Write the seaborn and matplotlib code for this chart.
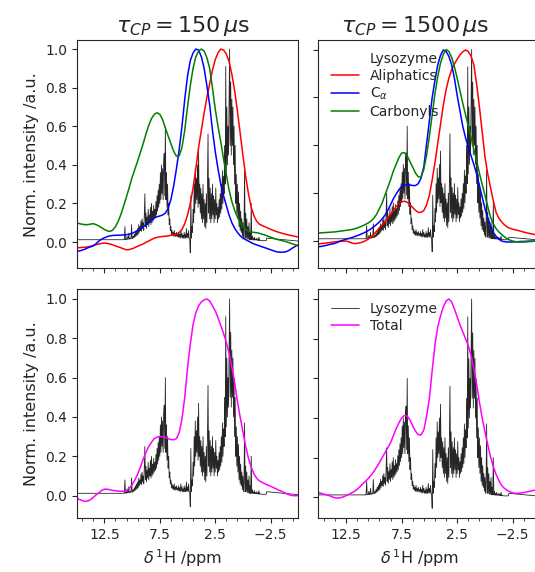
import numpy as np
import matplotlib
matplotlib.use('Agg')
import matplotlib.pyplot as plt
from matplotlib.lines import Line2D
import seaborn as sns

sns.set_style('ticks')
plt.rcParams['font.family'] = ['DejaVu Sans']
plt.rcParams['mathtext.fontset'] = 'dejavusans'

# fitted curves, read every 0.25 ppm from 15 down to -5
grid_ppm = np.linspace(15.0, -5.0, 81)

aliph_150 = [-0.03, -0.029, -0.028, -0.027, -0.025, -0.022, -0.018, -0.014, -0.01, -0.007,
             -0.005, -0.007, -0.01, -0.015, -0.02, -0.025, -0.03, -0.036, -0.04, -0.039,
             -0.035, -0.029, -0.022, -0.016, -0.01, -0.002, 0.005, 0.013, 0.02, 0.024,
             0.027, 0.029, 0.03, 0.032, 0.035, 0.037, 0.04, 0.05, 0.065, 0.095,
             0.14, 0.2, 0.28, 0.38, 0.49, 0.58, 0.67, 0.75, 0.82, 0.89,
             0.945, 0.98, 1.0, 0.995, 0.975, 0.935, 0.87, 0.785, 0.68, 0.565,
             0.45, 0.34, 0.25, 0.18, 0.135, 0.107, 0.092, 0.085, 0.079, 0.072,
             0.066, 0.06, 0.055, 0.05, 0.046, 0.042, 0.038, 0.035, 0.032, 0.029, 0.026]
ca_150 = [-0.048, -0.046, -0.042, -0.037, -0.03, -0.025, -0.02, -0.008, 0.005, 0.015,
          0.022, 0.028, 0.032, 0.034, 0.035, 0.035, 0.036, 0.037, 0.038, 0.041,
          0.045, 0.052, 0.06, 0.07, 0.08, 0.09, 0.1, 0.113, 0.125, 0.131,
          0.135, 0.14, 0.15, 0.175, 0.22, 0.29, 0.38, 0.48, 0.6, 0.74,
          0.86, 0.94, 0.98, 1.0, 0.995, 0.96, 0.9, 0.81, 0.71, 0.58,
          0.47, 0.38, 0.3, 0.24, 0.19, 0.14, 0.1, 0.072, 0.05, 0.033,
          0.02, 0.012, 0.005, -0.003, -0.01, -0.015, -0.02, -0.025, -0.03, -0.035,
          -0.04, -0.045, -0.05, -0.052, -0.053, -0.052, -0.048, -0.04, -0.03, -0.022, -0.014]
co_150 = [0.10, 0.095, 0.092, 0.09, 0.09, 0.093, 0.095, 0.09, 0.083, 0.074,
          0.065, 0.058, 0.055, 0.062, 0.08, 0.108, 0.145, 0.19, 0.236, 0.285,
          0.335, 0.378, 0.42, 0.465, 0.51, 0.56, 0.605, 0.64, 0.662, 0.67,
          0.662, 0.635, 0.59, 0.55, 0.51, 0.47, 0.445, 0.447, 0.49, 0.58,
          0.7, 0.81, 0.9, 0.96, 0.99, 1.0, 0.99, 0.955, 0.9, 0.8,
          0.69, 0.6, 0.52, 0.43, 0.35, 0.27, 0.21, 0.165, 0.13, 0.1,
          0.08, 0.065, 0.056, 0.052, 0.05, 0.048, 0.045, 0.04, 0.036, 0.03,
          0.025, 0.02, 0.015, 0.011, 0.008, 0.004, 0.0, -0.005, -0.01, -0.015, -0.02]

aliph_1500 = [-0.015, -0.013, -0.012, -0.01, -0.008, -0.006, -0.004, -0.002, 0.0, 0.0,
              0.0, -0.004, -0.01, -0.013, -0.012, -0.009, -0.005, 0.002, 0.01, 0.022,
              0.035, 0.052, 0.07, 0.085, 0.1, 0.12, 0.14, 0.16, 0.18, 0.195,
              0.205, 0.208, 0.203, 0.19, 0.175, 0.16, 0.15, 0.15, 0.16, 0.19,
              0.24, 0.32, 0.41, 0.51, 0.61, 0.71, 0.79, 0.85, 0.895, 0.925,
              0.95, 0.972, 0.988, 0.998, 0.99, 0.965, 0.92, 0.82, 0.7, 0.57,
              0.44, 0.35, 0.28, 0.21, 0.15, 0.12, 0.1, 0.085, 0.073, 0.067,
              0.062, 0.058, 0.055, 0.051, 0.047, 0.043, 0.04, 0.037, 0.034, 0.032, 0.03]
ca_1500 = [-0.03, -0.028, -0.025, -0.022, -0.018, -0.015, -0.012, -0.006, 0.0, 0.005,
           0.01, 0.014, 0.018, 0.023, 0.028, 0.034, 0.04, 0.047, 0.055, 0.064,
           0.075, 0.087, 0.1, 0.116, 0.135, 0.16, 0.19, 0.22, 0.245, 0.268,
           0.285, 0.292, 0.295, 0.293, 0.29, 0.29, 0.3, 0.33, 0.39, 0.51,
           0.63, 0.75, 0.84, 0.92, 0.97, 0.998, 0.99, 0.965, 0.92, 0.85,
           0.76, 0.68, 0.6, 0.54, 0.49, 0.445, 0.4, 0.35, 0.29, 0.23,
           0.17, 0.12, 0.08, 0.045, 0.025, 0.01, 0.0, -0.003, -0.005, -0.005,
           -0.005, -0.004, -0.003, -0.002, -0.002, -0.001, 0.0, 0.0, 0.0, 0.0, 0.0]
co_1500 = [0.042, 0.043, 0.044, 0.045, 0.046, 0.047, 0.048, 0.05, 0.052, 0.054,
           0.056, 0.058, 0.06, 0.064, 0.068, 0.074, 0.08, 0.087, 0.095, 0.105,
           0.12, 0.14, 0.17, 0.2, 0.24, 0.28, 0.32, 0.365, 0.4, 0.435,
           0.46, 0.462, 0.445, 0.415, 0.385, 0.355, 0.335, 0.335, 0.375, 0.45,
           0.55, 0.66, 0.77, 0.86, 0.93, 0.975, 1.0, 0.99, 0.96, 0.91,
           0.85, 0.785, 0.72, 0.66, 0.6, 0.54, 0.48, 0.42, 0.355, 0.295,
           0.24, 0.18, 0.125, 0.09, 0.065, 0.048, 0.035, 0.022, 0.012, 0.005,
           0.0, -0.003, -0.005, -0.005, -0.005, -0.004, -0.003, -0.002, 0.0, 0.0, 0.0]

total_150 = [-0.012, -0.02, -0.025, -0.029, -0.027, -0.02, -0.008, 0.004, 0.015, 0.026,
             0.033, 0.033, 0.03, 0.027, 0.025, 0.023, 0.022, 0.023, 0.028, 0.038,
             0.055, 0.08, 0.11, 0.145, 0.185, 0.22, 0.25, 0.272, 0.29, 0.298,
             0.3, 0.3, 0.297, 0.29, 0.285, 0.284, 0.29, 0.32, 0.39, 0.5,
             0.65, 0.77, 0.87, 0.93, 0.965, 0.985, 0.995, 1.0, 0.99, 0.965,
             0.94, 0.905, 0.865, 0.825, 0.78, 0.725, 0.655, 0.575, 0.48, 0.4,
             0.325, 0.25, 0.19, 0.145, 0.11, 0.088, 0.075, 0.067, 0.06, 0.054,
             0.048, 0.041, 0.035, 0.028, 0.022, 0.015, 0.008, 0.003, 0.0, 0.0, 0.0]
total_1500 = [0.024, 0.02, 0.016, 0.012, 0.008, 0.002, -0.003, -0.004, -0.002, 0.002,
              0.008, 0.015, 0.022, 0.03, 0.04, 0.053, 0.068, 0.081, 0.095, 0.112,
              0.13, 0.152, 0.175, 0.2, 0.225, 0.25, 0.275, 0.31, 0.345, 0.375,
              0.4, 0.413, 0.41, 0.39, 0.36, 0.333, 0.315, 0.315, 0.34, 0.41,
              0.5, 0.64, 0.77, 0.86, 0.915, 0.96, 0.99, 1.0, 0.985, 0.95,
              0.91, 0.87, 0.835, 0.8, 0.765, 0.715, 0.65, 0.57, 0.48, 0.4,
              0.33, 0.265, 0.205, 0.155, 0.115, 0.085, 0.06, 0.045, 0.035, 0.028,
              0.022, 0.02, 0.02, 0.022, 0.024, 0.027, 0.03, 0.033, 0.036, 0.038, 0.04]

# lysozyme 1H spectrum, read every 0.05 ppm from 10.8 down to -2.15
lyso_int = [
    0.012, 0.013, 0.012, 0.08, 0.013, 0.014, 0.013, 0.03, 0.014, 0.015,
    0.045, 0.015, 0.016, 0.02, 0.017, 0.09, 0.018, 0.02, 0.03, 0.022,
    0.04, 0.025, 0.05, 0.03, 0.06, 0.035, 0.07, 0.04, 0.09, 0.05,
    0.08, 0.06, 0.11, 0.055, 0.12, 0.07, 0.1, 0.06, 0.14, 0.25,
    0.08, 0.15, 0.07, 0.13, 0.09, 0.17, 0.08, 0.14, 0.1, 0.18,
    0.09, 0.2, 0.1, 0.16, 0.11, 0.19, 0.12, 0.17, 0.13, 0.21,
    0.14, 0.24, 0.16, 0.27, 0.18, 0.3, 0.2, 0.36, 0.22, 0.4,
    0.25, 0.38, 0.22, 0.42, 0.46, 0.24, 0.6, 0.22, 0.36, 0.18,
    0.3, 0.14, 0.2, 0.09, 0.12, 0.06, 0.08, 0.04, 0.06, 0.035,
    0.05, 0.03, 0.06, 0.03, 0.045, 0.028, 0.05, 0.03, 0.04, 0.025,
    0.05, 0.025, 0.04, 0.02, 0.06, 0.025, 0.045, 0.02, 0.035, 0.02,
    0.05, 0.02, 0.04, 0.02, 0.07, 0.025, 0.045, 0.02, 0.06, 0.02,
    0.015, -0.056, 0.24, 0.02, 0.08, 0.05, 0.17, 0.1, 0.3, 0.15,
    0.38, 0.2, 0.33, 0.22, 0.4, 0.18, 0.47, 0.2, 0.3, 0.15,
    0.28, 0.12, 0.25, 0.1, 0.3, 0.12, 0.22, 0.08, 0.2, 0.07,
    0.25, 0.1, 0.3, 0.56, 0.15, 0.33, 0.12, 0.28, 0.1, 0.25,
    0.12, 0.3, 0.14, 0.24, 0.1, 0.22, 0.12, 0.28, 0.14, 0.2,
    0.1, 0.18, 0.12, 0.22, 0.13, 0.25, 0.15, 0.3, 0.17, 0.37,
    0.2, 0.34, 0.25, 0.5, 0.3, 0.91, 0.35, 0.7, 0.4, 0.6,
    0.45, 0.75, 1.0, 0.5, 0.83, 0.45, 0.74, 0.5, 0.7, 0.4,
    0.6, 0.3, 0.5, 0.2, 0.35, 0.15, 0.3, 0.12, 0.26, 0.08,
    0.2, 0.06, 0.16, 0.05, 0.12, 0.03, 0.1, 0.02, 0.08, 0.37,
    0.02, 0.15, 0.02, 0.12, 0.015, 0.08, 0.015, 0.1, 0.012, 0.05,
    0.012, 0.2, 0.012, 0.03, 0.01, 0.02, 0.01, 0.025, 0.01, 0.015,
    0.01, 0.02, 0.008, 0.015, 0.008, 0.025, 0.008, 0.01, 0.008, 0.008,
    0.007, 0.007, 0.007, 0.007, 0.007, 0.007, 0.007, 0.007, 0.007, 0.02,
]
lyso_ppm = np.concatenate([[15.0], 10.8 - 0.05 * np.arange(len(lyso_int)), [-5.0]])
lyso_y = np.concatenate([[0.012], lyso_int, [0.005]])

titles = [r'$\tau_{CP} = 150\,\mu$s', r'$\tau_{CP} = 1500\,\mu$s']
fit_colors = {'Aliphatics': '#ff0000', r'C$_\alpha$': '#0000ff', 'Carbonyls': '#008000'}

fig = plt.figure(figsize=(5.35, 5.72), dpi=100)
ax_tl = fig.add_axes([0.1434, 0.531, 0.4142, 0.3991])
ax_tr = fig.add_axes([0.595, 0.531, 0.4153, 0.3991])
ax_bl = fig.add_axes([0.1434, 0.0939, 0.4142, 0.4003])
ax_br = fig.add_axes([0.595, 0.0939, 0.4153, 0.4003])


def draw_spectrum(ax, label):
    sns.lineplot(x=lyso_ppm, y=lyso_y, ax=ax, color='k', lw=0.6, alpha=0.85,
                 sort=False, estimator=None, label=label)


# top row: fits per carbon group
for ax, fits in [(ax_tl, [aliph_150, ca_150, co_150]),
                 (ax_tr, [aliph_1500, ca_1500, co_1500])]:
    draw_spectrum(ax, '_nolegend_')
    for (name, col), vals in zip(fit_colors.items(), fits):
        sns.lineplot(x=grid_ppm, y=vals, ax=ax, color=col, lw=1.1,
                     sort=False, estimator=None, label=name)

# bottom row: total
for ax, vals in [(ax_bl, total_150), (ax_br, total_1500)]:
    draw_spectrum(ax, 'Lysozyme')
    sns.lineplot(x=grid_ppm, y=vals, ax=ax, color='#ff00ff', lw=1.1,
                 sort=False, estimator=None, label='Total')

for ax in [ax_tl, ax_tr, ax_bl, ax_br]:
    if ax.get_legend():
        ax.get_legend().remove()
    ax.set_xlim(15, -5)
    ax.set_xticks([12.5, 7.5, 2.5, -2.5])
    ax.set_xticks(np.arange(14.5, -5, -1.0), minor=True)
    ax.tick_params(axis='both', labelsize=10, direction='out')
    ax.set_xlabel('')
    ax.set_ylabel('')

ax_tl.set_ylim(-0.136, 1.047)
ax_tr.set_ylim(-0.142, 1.05)
ax_bl.set_ylim(-0.115, 1.049)
ax_br.set_ylim(-0.106, 1.049)
ax_tl.set_yticks(np.arange(0, 1.01, 0.2))
ax_bl.set_yticks(np.arange(0, 1.01, 0.2))
ax_br.set_yticks(np.arange(0, 1.01, 0.2))
ax_tr.set_yticks(np.arange(0, 1.01, 0.25))

ax_tl.tick_params(labelbottom=False)
ax_tr.tick_params(labelbottom=False, labelleft=False)
ax_br.tick_params(labelleft=False)

ax_tl.set_title(titles[0], fontsize=16, x=0.48)
ax_tr.set_title(titles[1], fontsize=16, x=0.435)
ax_tl.set_ylabel('Norm. intensity /a.u.', fontsize=11.5)
ax_bl.set_ylabel('Norm. intensity /a.u.', fontsize=11.5)
ax_bl.set_xlabel(r'$\delta\,^{1}$H /ppm', fontsize=11.5, x=0.48)
ax_br.set_xlabel(r'$\delta\,^{1}$H /ppm', fontsize=11.5, x=0.458)

h, l = ax_tr.get_legend_handles_labels()
h = [Line2D([], [], color='none')] + h
l = ['Lysozyme'] + l
ax_tr.legend(h, l, loc='upper left', frameon=False, fontsize=10, labelspacing=0.2)
ax_br.legend(loc='upper left', frameon=False, fontsize=10, labelspacing=0.2)

fig.savefig('out.png', dpi=100)
